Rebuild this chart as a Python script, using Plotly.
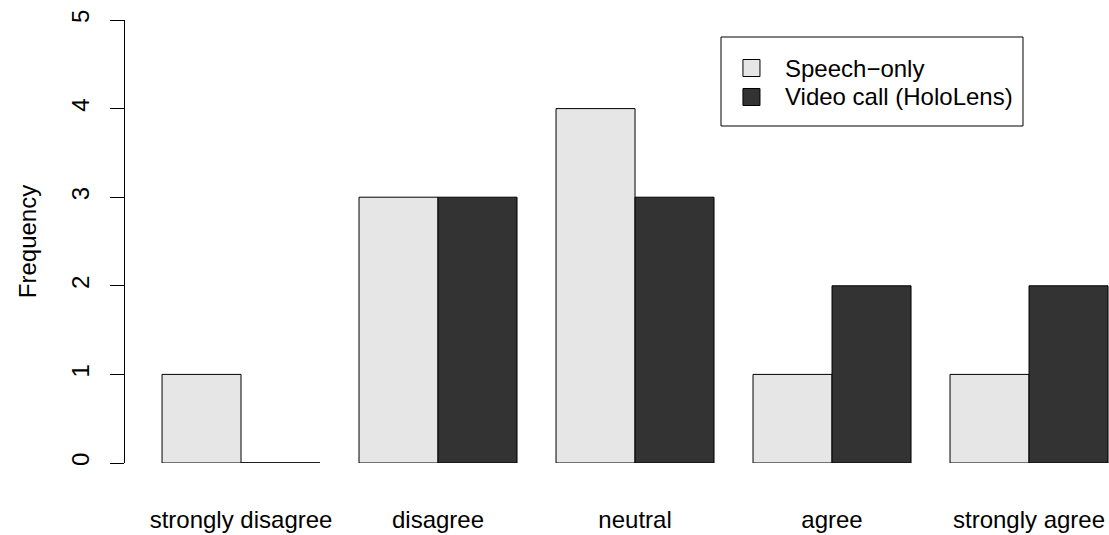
import plotly.graph_objects as go

categories = ["strongly disagree", "disagree", "neutral", "agree", "strongly agree"]
speech_only = [1, 3, 4, 1, 1]
video_call = [0, 3, 3, 2, 2]
series_names = ["Speech\u2212only", "Video call (HoloLens)"]
series_colors = ["#E6E6E6", "#333333"]
y_ticks = [0, 1, 2, 3, 4, 5]

FONT = "Liberation Sans, Arial, Helvetica, sans-serif"
BAR_GAP = 0.198
bar_w = (1 - BAR_GAP) / 2

fig = go.Figure()
for name, vals, col in zip(series_names, [speech_only, video_call], series_colors):
    fig.add_trace(go.Bar(
        x=categories, y=vals, name=name, showlegend=False,
        marker=dict(color=col, line=dict(color="black", width=1)),
    ))

# zero-height bars still show their bottom edge
for k, vals in enumerate([speech_only, video_call]):
    for i, v in enumerate(vals):
        if v == 0:
            x0 = i - bar_w + k * bar_w
            fig.add_shape(type="line", xref="x", yref="y",
                          x0=x0, x1=x0 + bar_w, y0=0, y1=0,
                          line=dict(color="black", width=1))

# boxed legend in the top-right corner (paper coordinates)
fig.add_shape(type="rect", xref="paper", yref="paper",
              x0=0.6057, x1=0.9126, y0=0.7607, y1=0.9616,
              line=dict(color="black", width=1), fillcolor="white")
row_y = [0.8916, 0.8262]
half_h = 0.0192
for name, col, yc in zip(series_names, series_colors, row_y):
    fig.add_shape(type="rect", xref="paper", yref="paper",
                  x0=0.6280, x1=0.6453, y0=yc - half_h, y1=yc + half_h,
                  line=dict(color="black", width=1), fillcolor=col)
    fig.add_annotation(xref="paper", yref="paper", x=0.6687, y=yc,
                       xanchor="left", yanchor="middle", showarrow=False,
                       text=name, font=dict(size=24, color="black"))

fig.update_layout(
    width=1109, height=535,
    margin=dict(l=125, r=0, t=20, b=72),
    paper_bgcolor="white", plot_bgcolor="white",
    barmode="group", bargap=BAR_GAP, bargroupgap=0,
    font=dict(family=FONT, size=24, color="black"),
    xaxis=dict(
        range=[-0.589, 4.406], showline=False, showgrid=False,
        ticks="", zeroline=False, ticklabelstandoff=40,
        tickfont=dict(size=24),
    ),
    yaxis=dict(
        range=[0, 5], tickvals=y_ticks, showgrid=False, zeroline=False,
        showline=True, linecolor="black", linewidth=1,
        ticks="outside", ticklen=14, tickcolor="black", tickwidth=1,
        tickangle=-90, tickfont=dict(size=24), ticklabelstandoff=11,
        title=dict(text="Frequency", font=dict(size=24), standoff=24),
    ),
)

fig.write_html("out.html")
